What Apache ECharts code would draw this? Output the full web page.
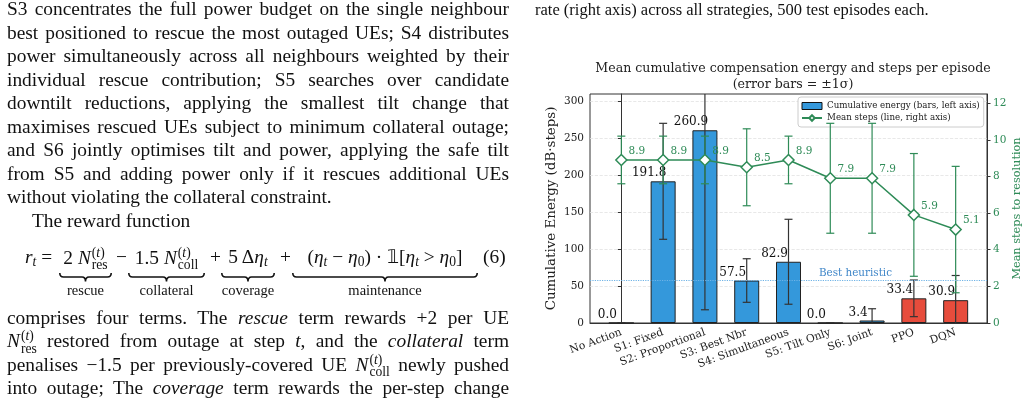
<!DOCTYPE html>
<html>
<head>
<meta charset="utf-8">
<title>Compensation energy and steps per episode</title>
<script src="https://cdn.jsdelivr.net/npm/echarts@6/dist/echarts.min.js"></script>
<style>
  html, body { margin: 0; padding: 0; background: #fff; }
  #page { position: relative; width: 1031px; height: 408px; overflow: hidden; }
  #main { position: absolute; left: 0; top: 0; width: 1031px; height: 408px; }
  .txt { position: absolute; z-index: 2; font-family: 'Liberation Serif', 'Times New Roman', serif; color: #111; }
  .body { font-size: 19.4px; width: 502px; }
  .ln { height: 23.5px; line-height: 23.5px; overflow: visible; }
  .j { text-align: justify; text-align-last: justify; }
  .ss { display: inline-block; vertical-align: -0.4em; line-height: 0.9; font-size: 0.7em; text-align: left; margin-left: 1px; }
  .ss > span { display: block; }
  .sb { font-size: 0.7em; vertical-align: -0.25em; font-style: italic; }
  .eq { position: absolute; top: 247px; line-height: 20px; font-size: 19.4px; white-space: nowrap; }
  .grp { text-align: center; }
  .brace { position: absolute; top: 268px; height: 9px; }
  .lab { position: absolute; top: 281px; font-size: 14.5px; line-height: 18px; text-align: center; white-space: nowrap; }
</style>
</head>
<body>
<div id="page">
  <div id="main"></div>

  <!-- left column of the paper -->
  <div class="txt body" style="left:7px; top:-2.75px;">
    <div class="ln j">S3 concentrates the full power budget on the single neighbour</div>
    <div class="ln j">best positioned to rescue the most outaged UEs; S4 distributes</div>
    <div class="ln j">power simultaneously across all neighbours weighted by their</div>
    <div class="ln j">individual rescue contribution; S5 searches over candidate</div>
    <div class="ln j">downtilt reductions, applying the smallest tilt change that</div>
    <div class="ln j">maximises rescued UEs subject to minimum collateral outage;</div>
    <div class="ln j">and S6 jointly optimises tilt and power, applying the safe tilt</div>
    <div class="ln j">from S5 and adding power only if it rescues additional UEs</div>
    <div class="ln">without violating the collateral constraint.</div>
    <div class="ln" style="padding-left:25px;">The reward function</div>
  </div>

  <!-- equation (6) -->
  <div class="txt">
    <span class="eq" style="left:25px;"><i>r</i><span class="sb">t</span> =</span>
    <span class="eq grp" style="left:59px; width:53px;">2 <i>N</i><span class="ss"><span>(<i>t</i>)</span><span>res</span></span></span>
    <span class="eq" style="left:116px;">−</span>
    <span class="eq grp" style="left:128px; width:77px;">1.5 <i>N</i><span class="ss"><span>(<i>t</i>)</span><span>coll</span></span></span>
    <span class="eq" style="left:210px;">+</span>
    <span class="eq grp" style="left:221px; width:54px;">5 Δ<i>η</i><span class="sb">t</span></span>
    <span class="eq" style="left:280px;">+</span>
    <span class="eq grp" style="left:292px; width:186px;">(<i>η</i><span class="sb">t</span> − <i>η</i><span class="sb" style="font-style:normal">0</span>) · 𝟙[<i>η</i><span class="sb">t</span> &gt; <i>η</i><span class="sb" style="font-style:normal">0</span>]</span>
    <span class="eq" style="left:483px;">(6)</span>
    <span class="brace" data-w="53" style="left:59px;"></span>
    <span class="brace" data-w="77" style="left:128px;"></span>
    <span class="brace" data-w="54" style="left:221px;"></span>
    <span class="brace" data-w="186" style="left:292px;"></span>
    <span class="lab" style="left:59px; width:53px;">rescue</span>
    <span class="lab" style="left:128px; width:77px;">collateral</span>
    <span class="lab" style="left:221px; width:54px;">coverage</span>
    <span class="lab" style="left:292px; width:186px;">maintenance</span>
  </div>

  <div class="txt body" style="left:7px; top:305.75px;">
    <div class="ln j">comprises four terms. The <i>rescue</i> term rewards +2 per UE</div>
    <div class="ln j"><i>N</i><span class="ss"><span>(<i>t</i>)</span><span>res</span></span> restored from outage at step <i>t</i>, and the <i>collateral</i> term</div>
    <div class="ln j">penalises −1.5 per previously-covered UE <i>N</i><span class="ss"><span>(<i>t</i>)</span><span>coll</span></span> newly pushed</div>
    <div class="ln j">into outage; The <i>coverage</i> term rewards the per-step change</div>
  </div>

  <!-- caption tail, right column -->
  <div class="txt" style="left:535px; top:-1px; font-size:16.5px; line-height:22px; white-space:nowrap;">rate (right axis) across all strategies, 500 test episodes each.</div>
</div>

<script type="text/javascript">
    // strategies and per-episode statistics (500 test episodes)
    var strategies = ['No Action', 'S1: Fixed', 'S2: Proportional', 'S3: Best Nbr', 'S4: Simultaneous',
                      'S5: Tilt Only', 'S6: Joint', 'PPO', 'DQN'];
    var energyMean = [0.0, 191.8, 260.9, 57.5, 82.9, 0.0, 3.4, 33.4, 30.9];
    var energyStd  = [0.0, 78.5, 243.0, 29.5, 57.5, 0.0, 15.9, 24.8, 33.4];
    var stepsMean  = [8.9, 8.9, 8.9, 8.5, 8.9, 7.9, 7.9, 5.9, 5.1];
    var stepsStd   = [1.3, 1.3, 1.3, 2.1, 1.3, 3.0, 3.0, 3.35, 3.45];
    var rlAgents = ['PPO', 'DQN'];
    var bestHeuristic = 57.5;
    var energyTicks = [0, 50, 100, 150, 200, 250, 300];
    var stepsTicks = [0, 2, 4, 6, 8, 10, 12];

    var FONT = 'DejaVu Serif';
    var GREEN = '#2e8b57';
    var BLUE = '#3498db';
    var RED = '#e74c3c';

    // underbraces for the equation
    document.querySelectorAll('.brace').forEach(function (el) {
        var w = +el.getAttribute('data-w'), h = w / 2;
        el.style.width = w + 'px';
        el.innerHTML = '<svg width="' + w + '" height="9"><path d="M0.8,0 Q0.8,4 4.5,4 L' + (h - 3.5) + ',4 Q' + h + ',4 ' + h + ',8.5 Q' + h + ',4 ' + (h + 3.5) + ',4 L' + (w - 4.5) + ',4 Q' + (w - 0.8) + ',4 ' + (w - 0.8) + ',0" fill="none" stroke="#111" stroke-width="1.6"/></svg>';
    });

    function errorBars(means, stds, axisIndex, color, z) {
        return {
            type: 'custom',
            yAxisIndex: axisIndex,
            clip: true,
            silent: true,
            z: z,
            data: means.map(function (m, i) { return [i, m - stds[i], m + stds[i]]; }),
            encode: { x: 0, y: [1, 2] },
            renderItem: function (params, api) {
                var lo = api.coord([api.value(0), api.value(1)]);
                var hi = api.coord([api.value(0), api.value(2)]);
                var st = { stroke: color, lineWidth: 1.2 };
                return {
                    type: 'group',
                    children: [
                        { type: 'line', shape: { x1: lo[0], y1: lo[1], x2: hi[0], y2: hi[1] }, style: st },
                        { type: 'line', shape: { x1: lo[0] - 4, y1: lo[1], x2: lo[0] + 4, y2: lo[1] }, style: st },
                        { type: 'line', shape: { x1: hi[0] - 4, y1: hi[1], x2: hi[0] + 4, y2: hi[1] }, style: st }
                    ]
                };
            }
        };
    }

    var idx = strategies.map(function (s, i) { return i; });

    var myChart = echarts.init(document.getElementById('main'));
    var option = {
        animation: false,
        textStyle: { fontFamily: FONT },
        title: {
            text: 'Mean cumulative compensation energy and steps per episode\n(error bars = ±1σ)',
            left: 788,
            top: 55,
            textAlign: 'center',
            textStyle: { fontFamily: FONT, fontSize: 12.6, fontWeight: 'normal', color: '#222', lineHeight: 16.7 }
        },
        legend: {
            orient: 'vertical',
            left: 798,
            top: 97,
            padding: [4, 4, 4, 3],
            itemGap: 2,
            itemWidth: 20,
            itemHeight: 7,
            borderColor: '#cccccc',
            borderWidth: 1,
            borderRadius: 3,
            backgroundColor: 'rgba(255,255,255,0.9)',
            textStyle: { fontFamily: FONT, fontSize: 8.7, color: '#222', lineHeight: 10 },
            data: [
                { name: 'Cumulative energy (bars, left axis)', icon: 'rect',
                  itemStyle: { color: BLUE, borderColor: '#111', borderWidth: 1 } },
                { name: 'Mean steps (line, right axis)' }
            ]
        },
        grid: {
            left: 590, right: 44, top: 94, bottom: 85,
            show: true, borderColor: '#333', borderWidth: 1, backgroundColor: 'transparent'
        },
        xAxis: {
            type: 'value',
            min: -0.75,
            max: 8.75,
            axisLine: { show: true, lineStyle: { color: '#333' } },
            axisTick: { show: false },
            splitLine: { show: false },
            axisLabel: {
                customValues: idx,
                formatter: function (v) { return strategies[Math.round(v)]; },
                rotate: 20,
                margin: 9,
                fontSize: 10.8,
                color: '#222',
                fontFamily: FONT
            }
        },
        yAxis: [
            {
                type: 'value',
                position: 'left',
                min: 0, max: 310, interval: 50,
                name: 'Cumulative Energy (dB·steps)',
                nameLocation: 'middle',
                nameRotate: 90,
                nameGap: 32,
                nameTextStyle: { fontFamily: FONT, fontSize: 13.4, color: '#222' },
                axisLine: { show: true, lineStyle: { color: '#333' } },
                axisTick: { show: true, length: 3.5, customValues: energyTicks, lineStyle: { color: '#333' } },
                axisLabel: { customValues: energyTicks, fontSize: 10.5, color: '#222', margin: 6, fontFamily: FONT },
                splitLine: { show: true, lineStyle: { type: 'dashed', color: '#e2e2e2', width: 0.8 } }
            },
            {
                type: 'value',
                position: 'right',
                min: 0, max: 12.5, interval: 2,
                name: 'Mean steps to resolution',
                nameLocation: 'middle',
                nameRotate: 90,
                nameGap: 25,
                nameTextStyle: { fontFamily: FONT, fontSize: 11.3, color: GREEN },
                axisLine: { show: true, lineStyle: { color: '#333' } },
                axisTick: { show: true, length: 3.5, customValues: stepsTicks, lineStyle: { color: '#333' } },
                axisLabel: { customValues: stepsTicks, fontSize: 10.5, color: GREEN, margin: 6, fontFamily: FONT },
                splitLine: { show: false }
            }
        ],
        series: [
            {
                // reference line for the best heuristic, drawn behind the bars
                type: 'line',
                name: 'best-heuristic',
                data: [],
                z: 1,
                silent: true,
                markLine: {
                    silent: true,
                    symbol: 'none',
                    data: [{ yAxis: bestHeuristic }],
                    lineStyle: { type: 'dotted', color: '#6fb3e6', width: 1.2 },
                    label: {
                        show: true,
                        position: 'insideEndTop',
                        distance: [95, 2],
                        formatter: 'Best heuristic',
                        color: '#3f86c8',
                        fontSize: 10.4,
                        fontFamily: FONT
                    }
                }
            },
            {
                type: 'bar',
                name: 'Cumulative energy (bars, left axis)',
                barWidth: 25,
                z: 2,
                data: energyMean.map(function (v, i) { return [i, v]; }),
                itemStyle: {
                    color: function (p) {
                        return rlAgents.indexOf(strategies[p.dataIndex]) >= 0 ? RED : BLUE;
                    },
                    borderColor: '#222',
                    borderWidth: 1
                },
                label: {
                    show: true,
                    position: 'top',
                    distance: 2,
                    offset: [-14, 0],
                    formatter: function (p) { return p.value[1].toFixed(1); },
                    fontFamily: FONT,
                    fontSize: 12,
                    color: '#111'
                }
            },
            errorBars(energyMean, energyStd, 0, '#333', 3),
            errorBars(stepsMean, stepsStd, 1, GREEN, 4),
            {
                type: 'line',
                name: 'Mean steps (line, right axis)',
                yAxisIndex: 1,
                z: 5,
                data: stepsMean.map(function (v, i) { return [i, v]; }),
                symbol: 'diamond',
                symbolSize: 11,
                lineStyle: { color: GREEN, width: 1.5 },
                itemStyle: { color: '#fff', borderColor: GREEN, borderWidth: 1.5 },
                label: {
                    show: true,
                    position: 'right',
                    distance: 1,
                    offset: [0, -9],
                    formatter: function (p) { return p.value[1].toFixed(1); },
                    fontFamily: FONT,
                    fontSize: 10.5,
                    color: GREEN
                }
            }
        ]
    };

    myChart.setOption(option);
</script>
</body>
</html>
